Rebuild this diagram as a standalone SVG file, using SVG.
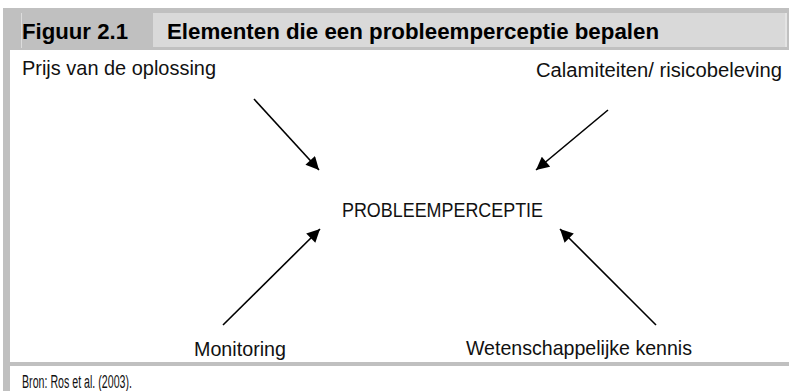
<svg xmlns="http://www.w3.org/2000/svg" width="789" height="391" viewBox="0 0 789 391">
<style>
.t{font-family:"Liberation Sans",Arial,sans-serif;font-size:21px;fill:#111}
.h{font-family:"Liberation Sans",Arial,sans-serif;font-size:22px;font-weight:bold;fill:#000}
.s{font-family:"Liberation Sans",Arial,sans-serif;font-size:18px;fill:#111}
.c{stroke:#000;stroke-width:1.6;fill:none;marker-end:url(#ah)}
</style>
<defs>
<marker id="ah" viewBox="0 0 10 10" refX="10" refY="5" markerUnits="userSpaceOnUse" markerWidth="15" markerHeight="13" orient="auto">
<path d="M0,0 L10,5 L0,10 z" fill="#000"/>
</marker>
</defs>
<rect x="0" y="0" width="789" height="391" fill="#fff"/>
<g id="frame">
<rect x="3" y="8" width="786" height="383" fill="#c0c0c0"/>
<rect x="153" y="13" width="632" height="34" fill="#d9d9d9"/>
<rect x="785" y="13" width="2" height="34" fill="#e4e4e4"/>
<rect x="21" y="13" width="1" height="35" fill="#dcdcdc"/>
<rect x="10" y="50" width="779" height="312" fill="#fff"/>
<rect x="10" y="366" width="779" height="25" fill="#fff"/>
</g>
<g id="header">
<text class="h" x="22" y="39" textLength="106" lengthAdjust="spacingAndGlyphs">Figuur 2.1</text>
<text class="h" x="167" y="39" textLength="492" lengthAdjust="spacingAndGlyphs">Elementen die een probleemperceptie bepalen</text>
</g>
<g id="n-prijs"><text class="t" x="22" y="75" textLength="194" lengthAdjust="spacingAndGlyphs">Prijs van de oplossing</text></g>
<g id="n-calamiteiten"><text class="t" x="536" y="77" style="font-size:19.5px" textLength="246" lengthAdjust="spacingAndGlyphs">Calamiteiten/ risicobeleving</text></g>
<g id="n-probleemperceptie"><text class="t" x="342" y="217" textLength="201" lengthAdjust="spacingAndGlyphs">PROBLEEMPERCEPTIE</text></g>
<g id="n-monitoring"><text class="t" x="194" y="356" textLength="92" lengthAdjust="spacingAndGlyphs">Monitoring</text></g>
<g id="n-wetenschap"><text class="t" x="466" y="355" textLength="226" lengthAdjust="spacingAndGlyphs">Wetenschappelijke kennis</text></g>
<g id="source"><text class="s" x="22" y="388" textLength="110" lengthAdjust="spacingAndGlyphs">Bron: Ros et al. (2003).</text></g>
<g id="connectors">
<line class="c" x1="254" y1="99" x2="319" y2="170"/>
<line class="c" x1="608" y1="110" x2="536" y2="170"/>
<line class="c" x1="223" y1="325" x2="320" y2="229"/>
<line class="c" x1="656" y1="325" x2="560" y2="229"/>
</g>
</svg>
